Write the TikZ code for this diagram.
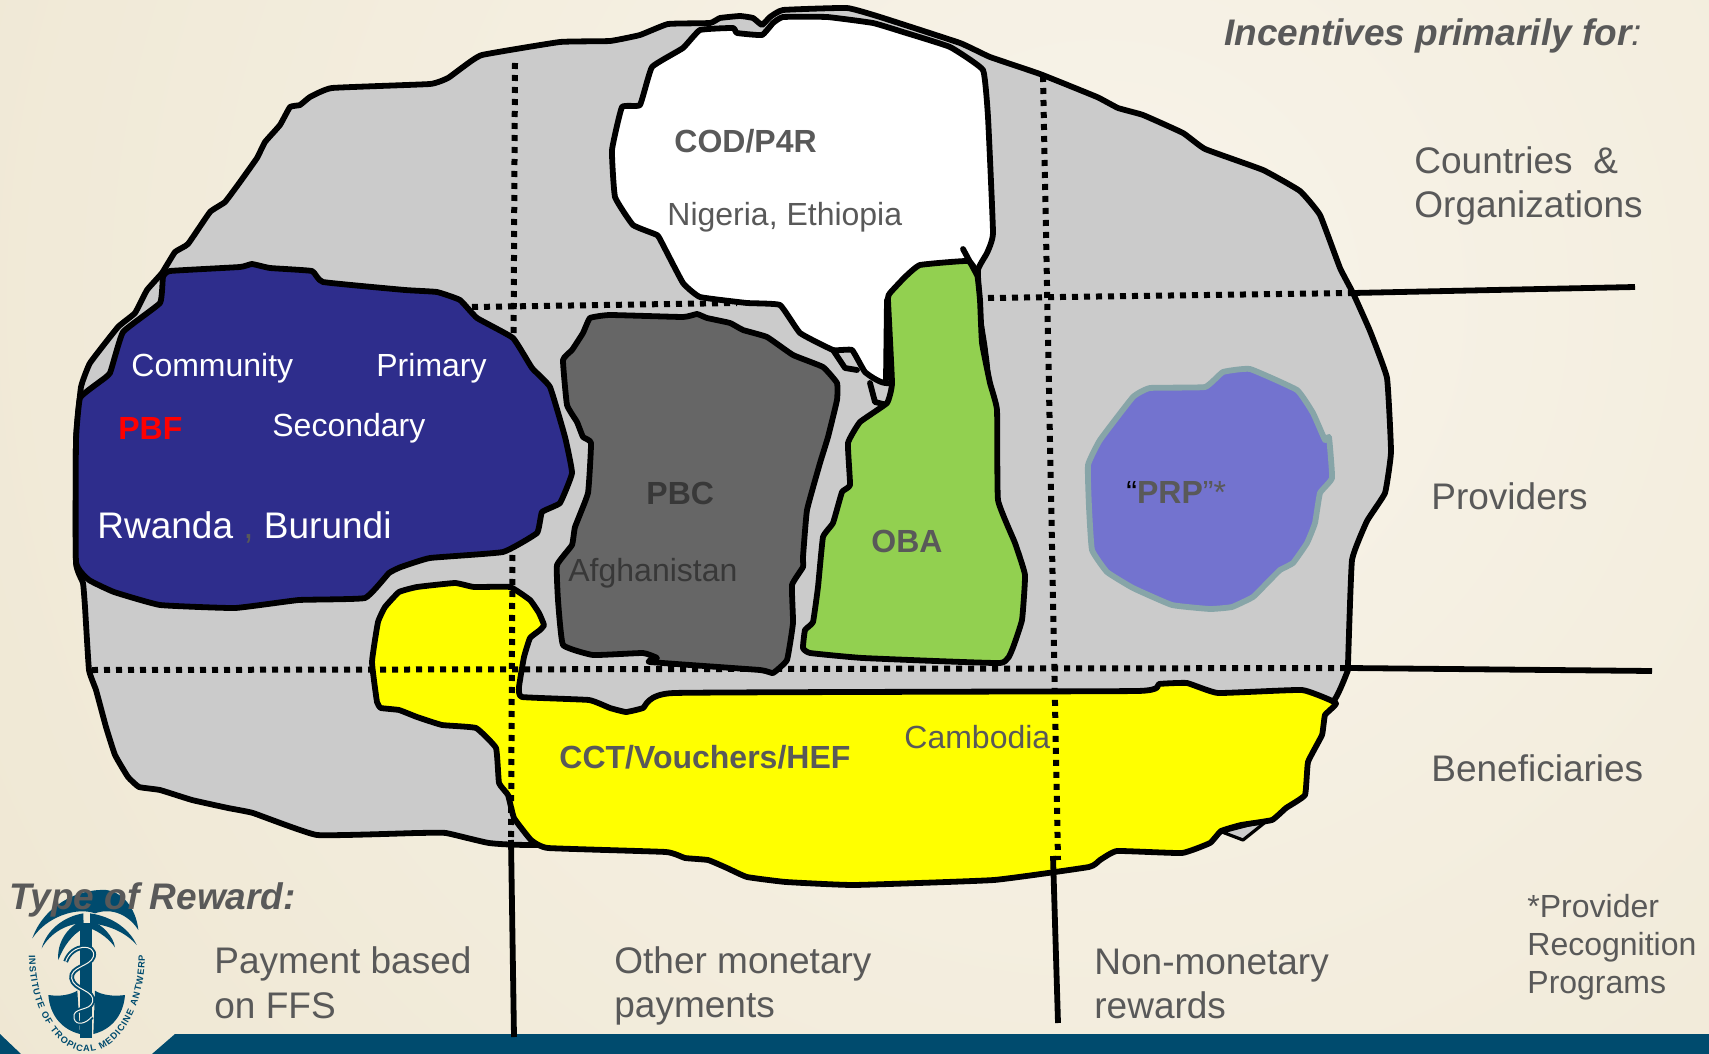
\documentclass[tikz,border=0pt]{standalone}
\usepackage{fontspec}
\setmainfont{Liberation Sans}
\usetikzlibrary{decorations.text}
\definecolor{bgtan}{HTML}{E7DCBF}
\definecolor{bglight}{HTML}{F8F4EA}
\definecolor{barblue}{HTML}{004B6E}
\definecolor{regiongray}{HTML}{CBCBCB}
\definecolor{pbfnavy}{HTML}{2E2D8C}
\definecolor{pbcgray}{HTML}{666666}
\definecolor{obagreen}{HTML}{92D050}
\definecolor{prpviolet}{HTML}{7373CF}
\definecolor{prpedge}{HTML}{87A5A8}
\definecolor{cctyellow}{RGB}{255,255,0}
\definecolor{txtgray}{HTML}{595959}
\tikzset{
  blob/.style={draw=black, line width=2.9pt, line join=round, line cap=round},
  dotline/.style={draw=black, line width=3pt, dash pattern=on 3pt off 3pt},
  rule/.style={draw=black, line width=2.9pt},
  biglabel/.style={anchor=west, align=left, inner sep=0pt, text=txtgray, font=\fontsize{18.5}{22.4}\selectfont},
  headlabel/.style={biglabel, font=\fontsize{18.5}{22.4}\selectfont\bfseries\itshape},
  smalllabel/.style={anchor=west, align=left, inner sep=0pt, text=txtgray, font=\fontsize{16}{19}\selectfont},
  boldlabel/.style={smalllabel, font=\fontsize{16}{19}\selectfont\bfseries},
  whitelabel/.style={smalllabel, text=white},
}
\newcommand{\logofont}{\fontsize{4.6}{5}\selectfont\bfseries\color{barblue}}
\begin{document}
\begin{tikzpicture}[x=0.5pt, y=-0.5pt]
  \useasboundingbox (0,0) rectangle (1709,1054);
  \begin{scope}
    \clip (0,0) rectangle (1709,1054);
    \shade[inner color=bglight, outer color=bgtan] (1100,300) circle (2500);
  \end{scope}
  % bottom bar
  \fill[barblue] (152,1054) -- (175,1034) -- (1709,1034) -- (1709,1054) -- cycle;
  \fill[barblue] (0,1034) -- (21,1054) -- (0,1054) -- cycle;

  % end points of the rules
  \coordinate (provL) at (1353,293);
  \coordinate (provR) at (1635,287);
  \coordinate (beneL) at (1348,668);
  \coordinate (beneR) at (1652,671);
  \coordinate (ffsT) at (511,840);
  \coordinate (ffsB) at (514,1037);
  \coordinate (nonT) at (1053,856);
  \coordinate (nonB) at (1058,1023);

  % regions
  \draw[blob, fill=regiongray] plot[smooth cycle, tension=0.2] coordinates {
    (81,387) (90,363) (118,327) (135,313) (147,290) (162,273) (175,252) (188,244) (210,212) (225,202)
    (240,182) (257,158) (265,142) (280,125) (290,107) (300,105) (310,97) (332,88) (430,84) (448,78)
    (463,67) (482,55) (560,42) (610,41) (640,35) (668,24) (710,23) (720,18) (740,16) (753,18) (762,25)
    (770,17) (783,10) (847,8) (880,17) (960,43) (990,57) (1040,74) (1097,97) (1118,108) (1143,115)
    (1183,133) (1205,149) (1263,170) (1300,191) (1320,215) (1340,268) (1353,293) (1370,331) (1387,378)
    (1391,452) (1385,493) (1367,521) (1352,560) (1348,664) (1348,670) (1335,699) (1280,760) (1150,820)
    (1000,840) (539,845) (489,843) (446,833) (417,833) (317,835) (253,813) (228,808) (192,800) (160,790)
    (139,787) (128,777) (115,755) (106,727) (96,690) (89,670) (85,607) (83,583) (76,563) (76,440)};
  \draw[draw=black, line width=1.6pt, line join=round, fill=regiongray] (1222,832) -- (1243,840) -- (1268,820) -- cycle;
  \draw[blob, fill=cctyellow] plot[smooth cycle, tension=0.2] coordinates {
    (399,592) (417,587) (455,583) (474,587) (510,587) (530,600) (539,613) (544,625) (540,630) (530,638)
    (524,657) (519,687) (522,697) (589,700) (610,708) (626,712) (643,708) (674,693) (1137,691) (1159,684)
    (1187,683) (1218,693) (1302,690) (1336,703) (1325,715) (1322,735) (1308,762) (1305,795) (1286,808)
    (1272,820) (1241,825) (1221,831) (1210,843) (1182,853) (1117,851) (1100,860) (1089,867) (994,880)
    (854,885) (786,882) (747,877) (727,868) (708,860) (685,858) (666,852) (548,848) (531,840) (514,818)
    (508,795) (499,783) (496,748) (476,728) (442,725) (417,717) (399,710) (381,708) (377,702) (372,662)
    (378,622) (385,607)};

  % dotted grid
  \draw[dotline] (515,63) -- (ffsT);
  \draw[dotline] (1043,76) -- (1058,860);
  \draw[dotline] (472,307) -- (737,303);
  \draw[dotline] (988,298) -- (provL);
  \draw[dotline] (92,670) -- (beneL);

  \draw[blob, fill=white] plot[smooth cycle, tension=0.2] coordinates {
    (700,30) (733,28) (737,33) (762,35) (773,23) (783,17) (827,17) (873,23) (903,32) (950,47) (983,70)
    (988,117) (993,233) (987,253) (978,270) (980,317) (985,350) (985,385) (885,383) (865,372) (852,350)
    (833,350) (800,333) (780,305) (747,303) (700,297) (683,283) (662,243) (657,235) (633,225) (615,197)
    (612,150) (622,107) (640,105) (652,67) (683,48)};
  \draw[blob] (833,350) -- (845,368) -- (857,370);
  \draw[blob] (870,383) -- (875,402) -- (887,405);
  \draw[blob] (887,300) -- (886,380);
  \draw[blob, fill=pbfnavy] plot[smooth cycle, tension=0.2] coordinates {
    (170,271) (240,267) (252,264) (270,268) (312,271) (323,282) (405,290) (437,292) (460,300) (477,318)
    (513,338) (532,368) (550,387) (565,437) (572,473) (560,503) (542,512) (537,533) (503,552) (430,558)
    (401,567) (389,573) (365,598) (299,600) (235,608) (160,605) (114,592) (89,580) (76,562) (76,440)
    (80,398) (98,383) (110,373) (123,332) (160,303) (163,277)};
  \draw[blob, fill=pbcgray] plot[smooth cycle, tension=0.2] coordinates {
    (590,318) (610,315) (683,317) (697,314) (707,318) (730,323) (743,330) (767,337) (793,355) (823,367)
    (837,383) (837,400) (828,437) (820,463) (807,510) (803,557) (803,567) (792,585) (793,623) (787,660)
    (773,673) (760,670) (650,662) (657,658) (643,653) (593,655) (563,645) (558,600) (557,565) (572,545)
    (575,527) (588,493) (591,443) (583,437) (577,422) (567,405) (563,360) (572,350) (583,333)};
  \draw[blob, fill=obagreen] plot[smooth cycle, tension=0.2] coordinates {
    (968,261) (920,265) (905,277) (890,293) (888,300) (892,383) (887,403) (860,422) (848,443) (850,485)
    (842,492) (833,523) (823,537) (818,587) (813,622) (805,630) (803,648) (810,653) (863,658) (1000,663)
    (1012,650) (1022,620) (1025,575) (1015,543) (998,500) (997,410) (990,383) (982,343) (980,300) (977,273)};
  \draw[blob] (963,249) -- (977,275);
  \draw[blob, draw=prpedge, fill=prpviolet] plot[smooth cycle, tension=0.2] coordinates {
    (1088,465) (1100,440) (1133,397) (1150,388) (1205,387) (1223,372) (1250,369) (1297,390) (1313,413)
    (1325,440) (1329,437) (1332,478) (1320,493) (1315,523) (1307,543) (1293,563) (1280,570) (1267,583)
    (1253,597) (1232,607) (1210,609) (1172,605) (1133,588) (1107,572) (1092,550) (1089,507)};

  % rules to the side and bottom labels
  \draw[rule] (provL) -- (provR);
  \draw[rule] (beneL) -- (beneR);
  \draw[rule] (ffsT) -- (ffsB);
  \draw[rule] (nonT) -- (nonB);

  % logo, in its own grid
  \begin{scope}[shift={(0,860)}, x=0.16667pt, y=-0.16667pt]
    \fill[barblue] (97,235) .. controls (130,140) and (230,85) .. (320,90) .. controls (380,100) and (410,160) .. (415,210)
      .. controls (390,170) and (340,140) .. (285,160) .. controls (230,140) and (140,170) .. (97,235) -- cycle;
    \fill[barblue] (125,265) .. controls (140,210) and (190,170) .. (250,160) -- (250,190) .. controls (200,190) and (150,220) .. (125,265) -- cycle;
    \fill[barblue] (175,300) .. controls (170,250) and (200,200) .. (250,180) -- (250,205) .. controls (215,225) and (190,260) .. (175,300) -- cycle;
    \fill[barblue] (410,255) .. controls (390,210) and (340,170) .. (270,160) -- (270,190) .. controls (330,195) and (380,220) .. (410,255) -- cycle;
    \fill[barblue] (345,262) .. controls (340,230) and (310,195) .. (270,180) -- (270,205) .. controls (300,215) and (330,240) .. (345,262) -- cycle;
    \fill[barblue] (240,190) rectangle (276,535);
    \fill[barblue] (145,405) .. controls (180,410) and (210,405) .. (232,392) -- (240,522) .. controls (190,510) and (150,470) .. (145,405) -- cycle;
    \fill[barblue] (375,405) .. controls (340,410) and (305,405) .. (285,392) -- (280,522) .. controls (330,510) and (370,470) .. (375,405) -- cycle;
    \draw[barblue, line width=2.4pt] (197,305) .. controls (215,250) and (290,250) .. (280,290)
      .. controls (270,320) and (210,320) .. (215,355) .. controls (220,390) and (285,390) .. (278,425)
      .. controls (270,455) and (215,440) .. (222,475) .. controls (228,500) and (260,490) .. (275,470);
    \draw[bglight, line width=0.5pt] (197,305) .. controls (215,250) and (290,250) .. (280,290)
      .. controls (270,320) and (210,320) .. (215,355) .. controls (220,390) and (285,390) .. (278,425)
      .. controls (270,455) and (215,440) .. (222,475) .. controls (228,500) and (260,490) .. (275,470);
  \end{scope}
  \path[decorate, decoration={text along path, text align=fit to path, text={|\logofont|INSTITUTE OF TROPICAL MEDICINE ANTWERP}}]
    (29,955) .. controls (29,1007) and (55,1052) .. (87,1052) .. controls (119,1052) and (145,1007) .. (145,955);

  % labels
  \node[headlabel] (incent) at (1224,36) {Incentives primarily for\textmd{:}};
  \node[headlabel] (rewardtype) at (9,900) {Type of Reward:};
  \foreach \lname/\x/\y/\ltext in {countries/1414/186/{Countries~~\&\\Organizations}, providers/1431/496/{Providers},
      beneficiaries/1431/768/{Beneficiaries}, ffs/214/983/{Payment based\\on FFS},
      monetary/614/986/{Other monetary\\payments}, nonmon/1094/984/{Non-monetary\\rewards}} {
    \node[biglabel] (\lname) at (\x,\y) {\ltext};
  }
  \node[smalllabel] (prpnote) at (1527,947) {*Provider\\Recognition\\Programs};
  \node[boldlabel] (cod) at (674,141) {COD/P4R};
  \node[smalllabel] (nigeria) at (667,217) {Nigeria, Ethiopia};
  \node[whitelabel] (community) at (131,368) {Community};
  \node[whitelabel] (primary) at (376,368) {Primary};
  \node[boldlabel, text=red] (pbf) at (118,428) {PBF};
  \node[whitelabel] (secondary) at (272,428) {Secondary};
  \node[biglabel, text=white] (rwanda) at (97,527) {Rwanda {\color{txtgray},} Burundi};
  \node[boldlabel, text=black!78] (pbc) at (646,493) {PBC};
  \node[smalllabel, text=black!78] (afghan) at (568,573) {Afghanistan};
  \node[boldlabel] (oba) at (871,541) {OBA};
  \node[boldlabel] (prp) at (1126,492) {{\mdseries\color{black}“}PRP{\mdseries ”*}};
  \node[boldlabel] (cct) at (559,757) {CCT/Vouchers/HEF};
  \node[smalllabel] (cambodia) at (904,737) {Cambodia};
\end{tikzpicture}
\end{document}
